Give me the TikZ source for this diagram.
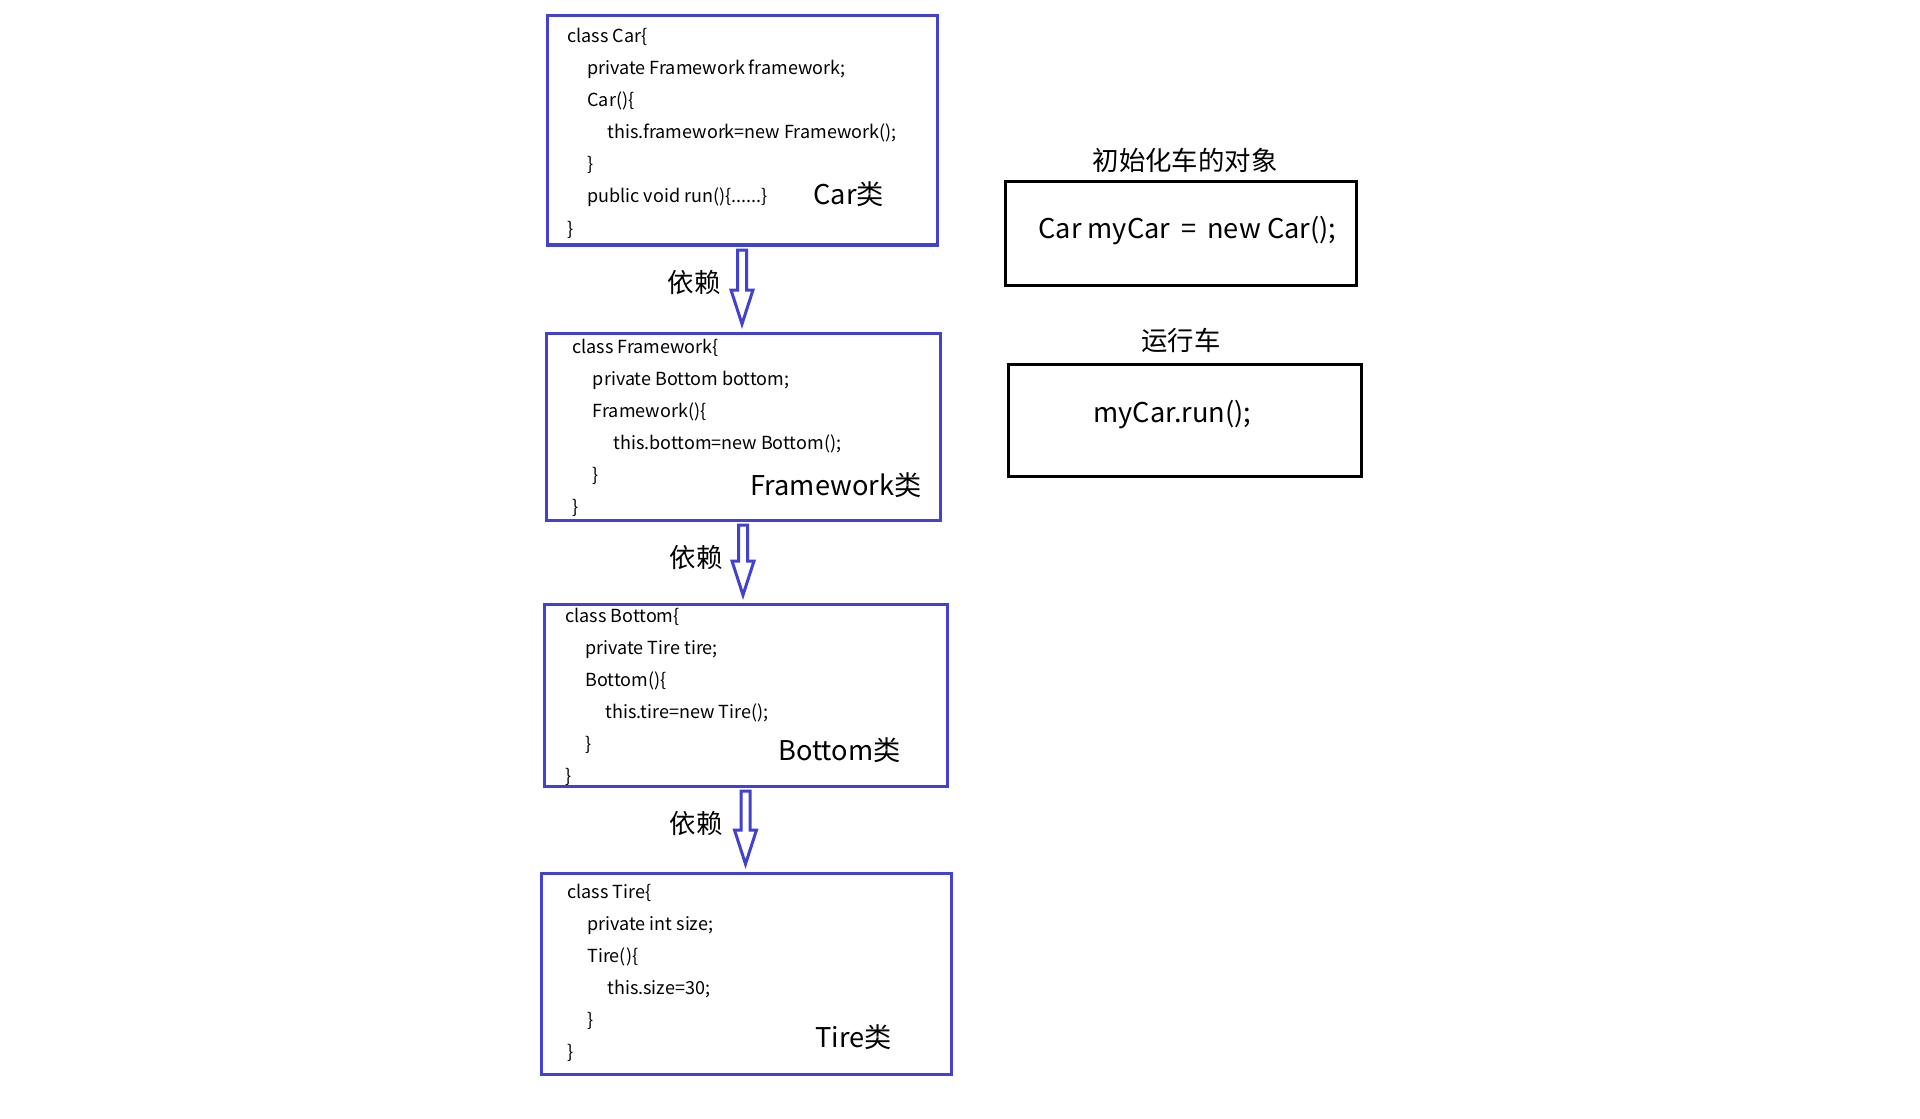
\documentclass[tikz,border=0pt]{standalone}
\usepackage{fontspec}
\setmainfont{Noto Sans CJK SC}
\usetikzlibrary{calc}
\definecolor{linkblue}{RGB}{66,66,206}
\tikzset{
  classbox/.style={draw=linkblue, line width=1.5pt, rectangle, inner sep=0pt, outer sep=0pt},
  plainbox/.style={draw=black, line width=1.5pt, rectangle, inner sep=0pt, outer sep=0pt},
  codeline/.style={anchor=base west, inner sep=0pt, font=\fontsize{9.0}{10}\selectfont},
  classname/.style={anchor=base west, inner sep=0pt, font=\fontsize{13.6}{16}\selectfont},
  cjklabel/.style={inner sep=0pt, font=\fontsize{13.2}{16}\selectfont},
  deparrow/.style={draw=linkblue, fill=white, line width=1.5pt, line join=miter},
}
% hollow block arrow from the bottom of #1 down to the top of #2
\newcommand\dependson[2]{%
  \draw[deparrow]
    ($(#1.south)+(-4.5,5)$) -- ($(#1.south)+(4.5,5)$)
    -- ($(#1.south |- #2.north)+(4.5,-43)$) -- ($(#1.south |- #2.north)+(11,-43)$)
    -- ($(#1.south |- #2.north)+(0,-9)$)
    -- ($(#1.south |- #2.north)+(-11,-43)$) -- ($(#1.south |- #2.north)+(-4.5,-43)$)
    -- cycle;}
\begin{document}
\begin{tikzpicture}[x=0.5pt,y=-0.5pt]
\useasboundingbox (0,0) rectangle (1920,1118);

% class boxes
\node[classbox, minimum width=195pt, minimum height=114.5pt] (car) at (742,130.5) {};
\node[classbox, minimum width=197pt, minimum height=93.5pt] (fw) at (743,426.5) {};
\node[classbox, minimum width=201.5pt, minimum height=91pt] (bottom) at (745.5,695) {};
\node[classbox, minimum width=205pt, minimum height=100.5pt] (tire) at (746,973.5) {};

% class source lines
\foreach \ind/\txt [count=\i from 0] in {0/{class Car\{}, 1/{private Framework framework;}, 1/{Car()\{}, 2/{this.framework=new Framework();}, 1/{\}}, 1/{public void run()\{......\}}, 0/{\}}}
  \node[codeline] (car-\i) at ({567+20*\ind},{43+32*\i}) {\txt};
\foreach \ind/\txt [count=\i from 0] in {0/{class Framework\{}, 1/{private Bottom bottom;}, 1/{Framework()\{}, 2/{this.bottom=new Bottom();}, 1/{\}}, 0/{\}}}
  \node[codeline] (fw-\i) at ({572+20.5*\ind},{353+32*\i}) {\txt};
\foreach \ind/\txt [count=\i from 0] in {0/{class Bottom\{}, 1/{private Tire tire;}, 1/{Bottom()\{}, 2/{this.tire=new Tire();}, 1/{\}}, 0/{\}}}
  \node[codeline] (bottom-\i) at ({565+20*\ind},{622+32*\i}) {\txt};
\foreach \ind/\txt [count=\i from 0] in {0/{class Tire\{}, 1/{private int size;}, 1/{Tire()\{}, 2/{this.size=30;}, 1/{\}}, 0/{\}}}
  \node[codeline] (tire-\i) at ({567+20*\ind},{898+32*\i}) {\txt};

% class names
\node[classname] (carname) at (813,205) {Car类};
\node[classname] (fwname) at (750,495) {Framework类};
\node[classname] (bottomname) at (778,760) {Bottom类};
\node[classname] (tirename) at (815,1047) {Tire类};

% dependency arrows
\dependson{car}{fw}
\dependson{fw}{bottom}
\dependson{bottom}{tire}
\node[cjklabel] (dep1) at (694,283) {依赖};
\node[cjklabel] (dep2) at (696,558) {依赖};
\node[cjklabel] (dep3) at (696,823) {依赖};

% usage on the right
\node[cjklabel] (inittitle) at (1185,160) {初始化车的对象};
\node[plainbox, minimum width=175.5pt, minimum height=51.5pt] (initbox) at (1180.5,233.5) {};
\node[classname] (initcode) at (1038,238) {Car myCar\hspace{5.5pt}=\hspace{5.5pt}new Car();};
\node[cjklabel] (runtitle) at (1181,340) {运行车};
\node[plainbox, minimum width=176.5pt, minimum height=56pt] (runbox) at (1184.5,420) {};
\node[classname] (runcode) at (1093,422) {myCar.run();};
\end{tikzpicture}
\end{document}
